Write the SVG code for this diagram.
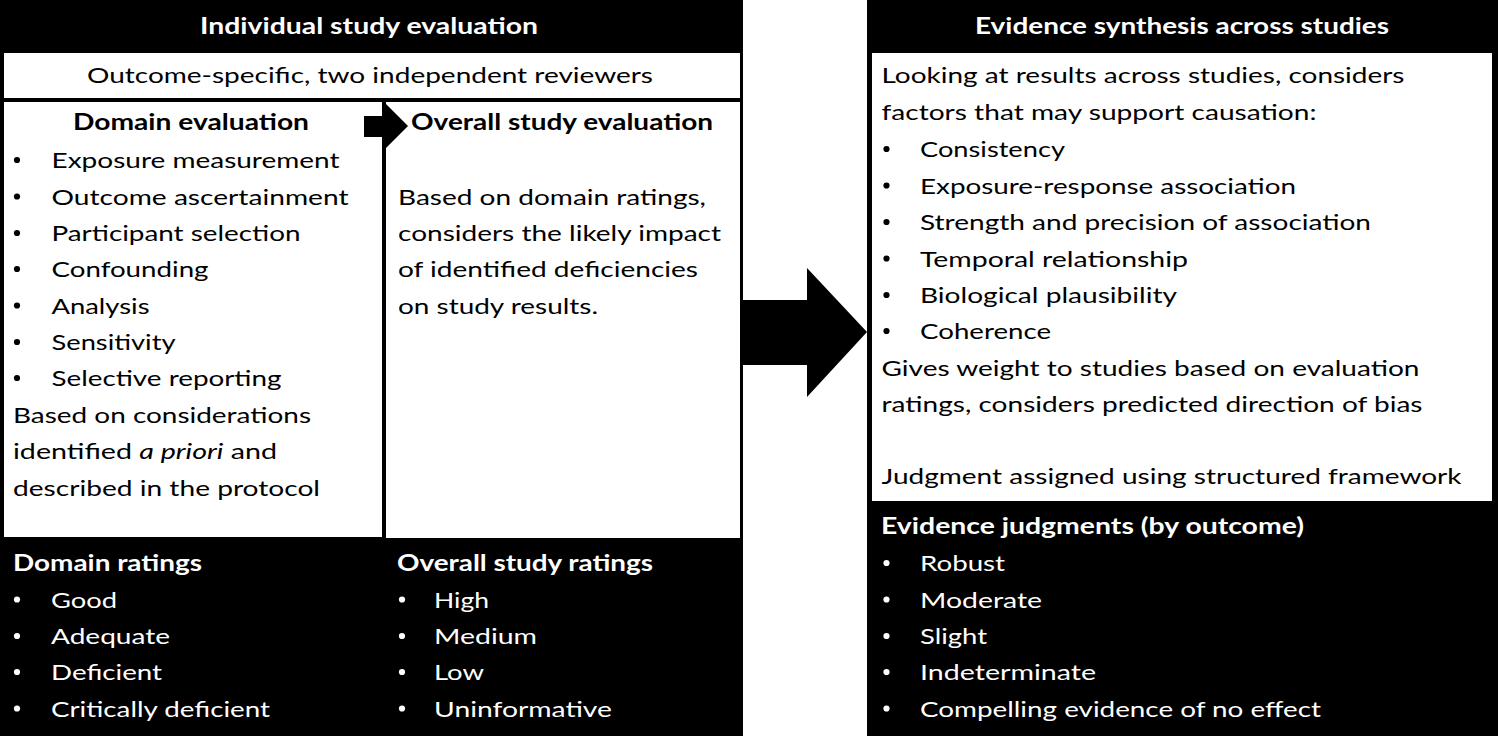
<svg xmlns="http://www.w3.org/2000/svg" width="1500" height="737" viewBox="0 0 1500 737">
<style>
text{font-family:Lato,"Open Sans","Liberation Sans",sans-serif;font-size:22px;fill:#000}
.b{font-weight:bold}
.w{fill:#fff}
.blk{fill:#000}
.wh{fill:#fff}
</style>
<defs>
<circle id="dot" r="3.1"/>
</defs>
<rect width="1500" height="737" fill="#fff"/>

<g id="individual-study-evaluation">
<rect class="blk" x="0" y="0" width="743" height="736"/>
<rect class="wh" x="4" y="53" width="736" height="45"/>
<rect class="wh" x="4" y="102" width="378" height="435"/>
<rect class="wh" x="386" y="102" width="354" height="436"/>
<text class="b w" x="200" y="34" textLength="338" lengthAdjust="spacingAndGlyphs">Individual study evaluation</text>
<text x="87" y="83" textLength="566" lengthAdjust="spacingAndGlyphs">Outcome-specific, two independent reviewers</text>

<g id="domain-evaluation">
<text class="b" x="73" y="130" textLength="236" lengthAdjust="spacingAndGlyphs">Domain evaluation</text>
<g fill="#000">
<use href="#dot" x="17" y="160"/>
<use href="#dot" x="17" y="196.5"/>
<use href="#dot" x="17" y="233"/>
<use href="#dot" x="17" y="269"/>
<use href="#dot" x="17" y="305.5"/>
<use href="#dot" x="17" y="342"/>
<use href="#dot" x="17" y="378"/>
</g>
<text x="51.5" y="168" textLength="288" lengthAdjust="spacingAndGlyphs">Exposure measurement</text>
<text x="51.5" y="204.5" textLength="297" lengthAdjust="spacingAndGlyphs">Outcome ascertainment</text>
<text x="51.5" y="241" textLength="249" lengthAdjust="spacingAndGlyphs">Participant selection</text>
<text x="51.5" y="277" textLength="157" lengthAdjust="spacingAndGlyphs">Confounding</text>
<text x="51.5" y="313.5" textLength="98" lengthAdjust="spacingAndGlyphs">Analysis</text>
<text x="51.5" y="350" textLength="124" lengthAdjust="spacingAndGlyphs">Sensitivity</text>
<text x="51.5" y="386" textLength="230" lengthAdjust="spacingAndGlyphs">Selective reporting</text>
<text x="13" y="422.5" textLength="298" lengthAdjust="spacingAndGlyphs">Based on considerations</text>
<text x="13" y="459" textLength="264" lengthAdjust="spacingAndGlyphs">identified <tspan font-style="italic">a priori</tspan> and</text>
<text x="13" y="495.5" textLength="307" lengthAdjust="spacingAndGlyphs">described in the protocol</text>
</g>

<g id="overall-study-evaluation">
<text class="b" x="411" y="130" textLength="302" lengthAdjust="spacingAndGlyphs">Overall study evaluation</text>
<text x="398" y="205" textLength="308" lengthAdjust="spacingAndGlyphs">Based on domain ratings,</text>
<text x="398" y="241" textLength="323" lengthAdjust="spacingAndGlyphs">considers the likely impact</text>
<text x="398" y="277" textLength="300" lengthAdjust="spacingAndGlyphs">of identified deficiencies</text>
<text x="398" y="313.5" textLength="200" lengthAdjust="spacingAndGlyphs">on study results.</text>
</g>

<g id="domain-ratings">
<text class="b w" x="13" y="571" textLength="189" lengthAdjust="spacingAndGlyphs">Domain ratings</text>
<g fill="#fff">
<use href="#dot" x="17" y="599.5"/>
<use href="#dot" x="17" y="636"/>
<use href="#dot" x="17" y="672"/>
<use href="#dot" x="17" y="708.5"/>
</g>
<text class="w" x="51" y="607.5" textLength="66" lengthAdjust="spacingAndGlyphs">Good</text>
<text class="w" x="51" y="644" textLength="119" lengthAdjust="spacingAndGlyphs">Adequate</text>
<text class="w" x="51" y="680" textLength="111" lengthAdjust="spacingAndGlyphs">Deficient</text>
<text class="w" x="51" y="716.5" textLength="219" lengthAdjust="spacingAndGlyphs">Critically deficient</text>
</g>

<g id="overall-study-ratings">
<text class="b w" x="397" y="571" textLength="256" lengthAdjust="spacingAndGlyphs">Overall study ratings</text>
<g fill="#fff">
<use href="#dot" x="402" y="599.5"/>
<use href="#dot" x="402" y="636"/>
<use href="#dot" x="402" y="672"/>
<use href="#dot" x="402" y="708.5"/>
</g>
<text class="w" x="434" y="607.5" textLength="55" lengthAdjust="spacingAndGlyphs">High</text>
<text class="w" x="434" y="644" textLength="103" lengthAdjust="spacingAndGlyphs">Medium</text>
<text class="w" x="434" y="680" textLength="50" lengthAdjust="spacingAndGlyphs">Low</text>
<text class="w" x="434" y="716.5" textLength="178" lengthAdjust="spacingAndGlyphs">Uninformative</text>
</g>
</g>

<g id="evidence-synthesis">
<rect class="blk" x="867" y="0" width="631" height="736"/>
<rect class="wh" x="872" y="53" width="620" height="448"/>
<text class="b w" x="975" y="34" textLength="414" lengthAdjust="spacingAndGlyphs">Evidence synthesis across studies</text>
<text x="881.5" y="83" textLength="523" lengthAdjust="spacingAndGlyphs">Looking at results across studies, considers</text>
<text x="881.5" y="120" textLength="435" lengthAdjust="spacingAndGlyphs">factors that may support causation:</text>
<g fill="#000">
<use href="#dot" x="886.5" y="149"/>
<use href="#dot" x="886.5" y="185.5"/>
<use href="#dot" x="886.5" y="222"/>
<use href="#dot" x="886.5" y="258.5"/>
<use href="#dot" x="886.5" y="295"/>
<use href="#dot" x="886.5" y="331"/>
</g>
<text x="920" y="157" textLength="145" lengthAdjust="spacingAndGlyphs">Consistency</text>
<text x="920" y="193.5" textLength="376" lengthAdjust="spacingAndGlyphs">Exposure-response association</text>
<text x="920" y="230" textLength="451" lengthAdjust="spacingAndGlyphs">Strength and precision of association</text>
<text x="920" y="266.5" textLength="268" lengthAdjust="spacingAndGlyphs">Temporal relationship</text>
<text x="920" y="303" textLength="257" lengthAdjust="spacingAndGlyphs">Biological plausibility</text>
<text x="920" y="339" textLength="131" lengthAdjust="spacingAndGlyphs">Coherence</text>
<text x="881.5" y="375.5" textLength="538" lengthAdjust="spacingAndGlyphs">Gives weight to studies based on evaluation</text>
<text x="881.5" y="412" textLength="541" lengthAdjust="spacingAndGlyphs">ratings, considers predicted direction of bias</text>
<text x="881.5" y="484" textLength="580" lengthAdjust="spacingAndGlyphs">Judgment assigned using structured framework</text>

<g id="evidence-judgments">
<text class="b w" x="881" y="534" textLength="423" lengthAdjust="spacingAndGlyphs">Evidence judgments (by outcome)</text>
<g fill="#fff">
<use href="#dot" x="886.5" y="563"/>
<use href="#dot" x="886.5" y="599.5"/>
<use href="#dot" x="886.5" y="636"/>
<use href="#dot" x="886.5" y="672"/>
<use href="#dot" x="886.5" y="708.5"/>
</g>
<text class="w" x="920" y="571" textLength="85" lengthAdjust="spacingAndGlyphs">Robust</text>
<text class="w" x="920" y="607.5" textLength="122" lengthAdjust="spacingAndGlyphs">Moderate</text>
<text class="w" x="920" y="644" textLength="67" lengthAdjust="spacingAndGlyphs">Slight</text>
<text class="w" x="920" y="680" textLength="176" lengthAdjust="spacingAndGlyphs">Indeterminate</text>
<text class="w" x="920" y="716.5" textLength="401" lengthAdjust="spacingAndGlyphs">Compelling evidence of no effect</text>
</g>
</g>

<g id="connectors">
<polygon class="blk" points="740,300 807,300 807,268 867,332 807,397 807,365 740,365"/>
<polygon class="blk" points="364,116 385,116 385,103 408,126 385,149 385,137 364,137"/>
</g>
</svg>
